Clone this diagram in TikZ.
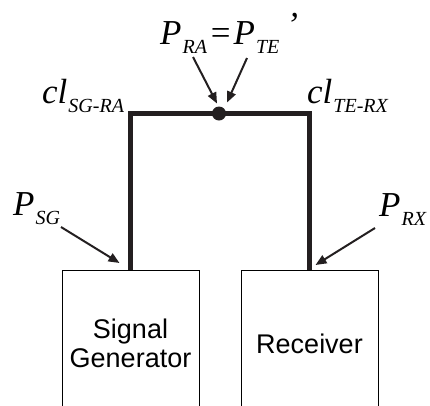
\documentclass[tikz,border=0pt]{standalone}
\usepackage{fontspec}
\setmainfont{Liberation Serif}
\newfontfamily\arialfont{Liberation Sans}
\usepackage{tikz}
\usetikzlibrary{calc, arrows.meta}
\definecolor{wirec}{RGB}{35, 31, 32}
\newcommand{\bigit}{\fontsize{35}{35}\selectfont\itshape}
\newcommand{\subit}{\fontsize{20}{20}\selectfont\itshape}
\newcommand{\sublbl}[2]{{\bigit #1}\kern1pt\raisebox{-9.5pt}{\subit #2}}

\begin{document}
\begin{tikzpicture}[x=1pt, y=-1pt,
    wire/.style={line width=5pt, wirec},
    ptr/.style={line width=2pt, wirec, -{Triangle[length=11pt, width=9pt]}},
    unit/.style={draw, line width=1pt, minimum width=137pt, minimum height=146pt,
      anchor=north, inner sep=0pt, align=center,
      font=\arialfont\fontsize{27}{28.5}\selectfont},
    lbl/.style={inner sep=0pt, anchor=base west}]
  \useasboundingbox (0,0) rectangle (430,405);
  \clip (0,0) rectangle (430,405);
  % blocks
  \node[unit] (sg) at (130.5,270) {Signal\\Generator};
  \node[unit] (rx) at (309.5,270) {Receiver};
  % cables
  \coordinate (jn) at (219,113.5);
  \draw[wire] (sg.north) |- (jn) -| (rx.north);
  \fill[wirec] (jn) circle (7pt);
  % labels
  \node[lbl] (pra) at (160,44) {\sublbl{P}{RA}\kern1.5pt{\bigit =}\kern1.5pt\sublbl{P}{TE}\kern7pt\raisebox{8pt}{\bigit ’}};
  \node[lbl] (clsg) at (42,103) {\sublbl{cl}{SG-RA}};
  \node[lbl] (clrx) at (307,103) {\sublbl{cl}{TE-RX}};
  \node[lbl] (psg) at (13,215) {\sublbl{P}{SG}};
  \node[lbl] (prx) at (379,216) {\sublbl{P}{RX}};
  % pointers
  \coordinate (ra0) at (193,57);
  \coordinate (te0) at (247,58);
  \coordinate (sg0) at (61,227);
  \coordinate (rx0) at (375,228);
  \draw[ptr] (ra0) -- ($(jn)+(-2,-10)$);
  \draw[ptr] (te0) -- ($(jn)+(8,-11)$);
  \draw[ptr] (sg0) -- ($(sg.north)+(-11,-7)$);
  \draw[ptr] (rx0) -- ($(rx.north)+(6,-5)$);
\end{tikzpicture}
\end{document}
